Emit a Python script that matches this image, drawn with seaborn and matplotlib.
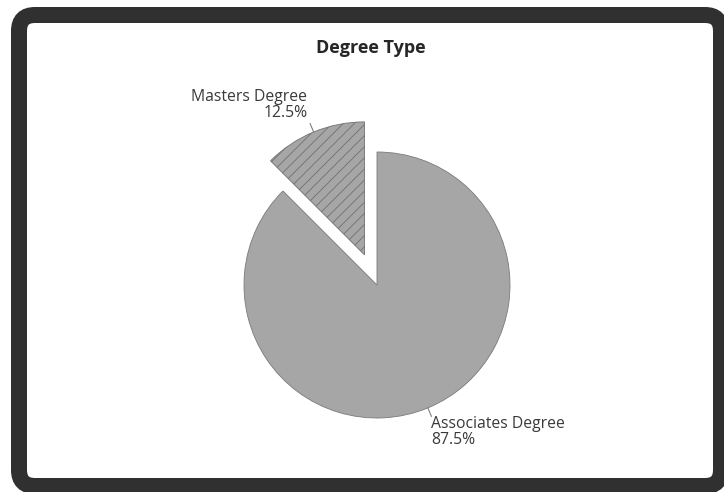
import numpy as np
import matplotlib
matplotlib.use("Agg")
import matplotlib.pyplot as plt
from matplotlib.patches import FancyBboxPatch
import seaborn as sns

# ---- data ----
categories = ["Associates Degree", "Masters Degree"]
shares = [87.5, 12.5]
title = "Degree Type"

sns.set_theme(style="white")
plt.rcParams["font.family"] = ["Open Sans", "DejaVu Sans"]
plt.rcParams["hatch.linewidth"] = 0.6

W, H = 724, 492
fig = plt.figure(figsize=(W / 100, H / 100), dpi=100)
fig.patch.set_facecolor("white")

# background frame axis in pixel coordinates
bg = fig.add_axes([0, 0, 1, 1])
bg.set_xlim(0, W)
bg.set_ylim(H, 0)
bg.axis("off")
frame = FancyBboxPatch((19, 15), 702, 471,
                       boxstyle="round,pad=0,rounding_size=16",
                       facecolor="white", edgecolor="#303030",
                       linewidth=16 * 72 / 100)
bg.add_patch(frame)
bg.text(371, 48, title, ha="center", va="center", fontsize=13,
        fontweight="bold", color="#262626")

# pie axis: centre at (377, 285) px, radius 133 px
cx, cy, R = 377, 285, 133
half = 200
ax = fig.add_axes([(cx - half) / W, (H - cy - half) / H, 2 * half / W, 2 * half / H])

base = "#a6a6a6"
wedges, _ = ax.pie(shares, startangle=135, counterclock=True,
                   colors=[base, base], explode=[0, 0.245], radius=1.0,
                   wedgeprops=dict(linewidth=0.6, edgecolor="#7a7a7a"))
wedges[1].set_hatch("///")
wedges[1].set_edgecolor("#707070")
ax.set_xlim(-half / R, half / R)
ax.set_ylim(-half / R, half / R)
ax.set_aspect("auto")
ax.axis("off")

# labels with short leader lines
for w, cat, val in zip(wedges, categories, shares):
    ang = np.deg2rad((w.theta1 + w.theta2) / 2)
    ox, oy = w.center
    x0, y0 = ox + np.cos(ang), oy + np.sin(ang)
    x1, y1 = ox + 1.07 * np.cos(ang), oy + 1.07 * np.sin(ang)
    ax.plot([x0, x1], [y0, y1], color="#808080", lw=0.8)
    txt = f"{cat}\n{val:.1f}%"
    if np.cos(ang) < 0:
        ax.text(x1 - 0.02, y1 + 0.02, txt, ha="right", va="bottom",
                fontsize=11.3, color="#3a3a3a", linespacing=0.95)
    else:
        ax.text(x1, y1 - 0.0, txt, ha="left", va="top",
                fontsize=11.3, color="#3a3a3a", linespacing=0.95)

fig.savefig("out.png", dpi=100)
